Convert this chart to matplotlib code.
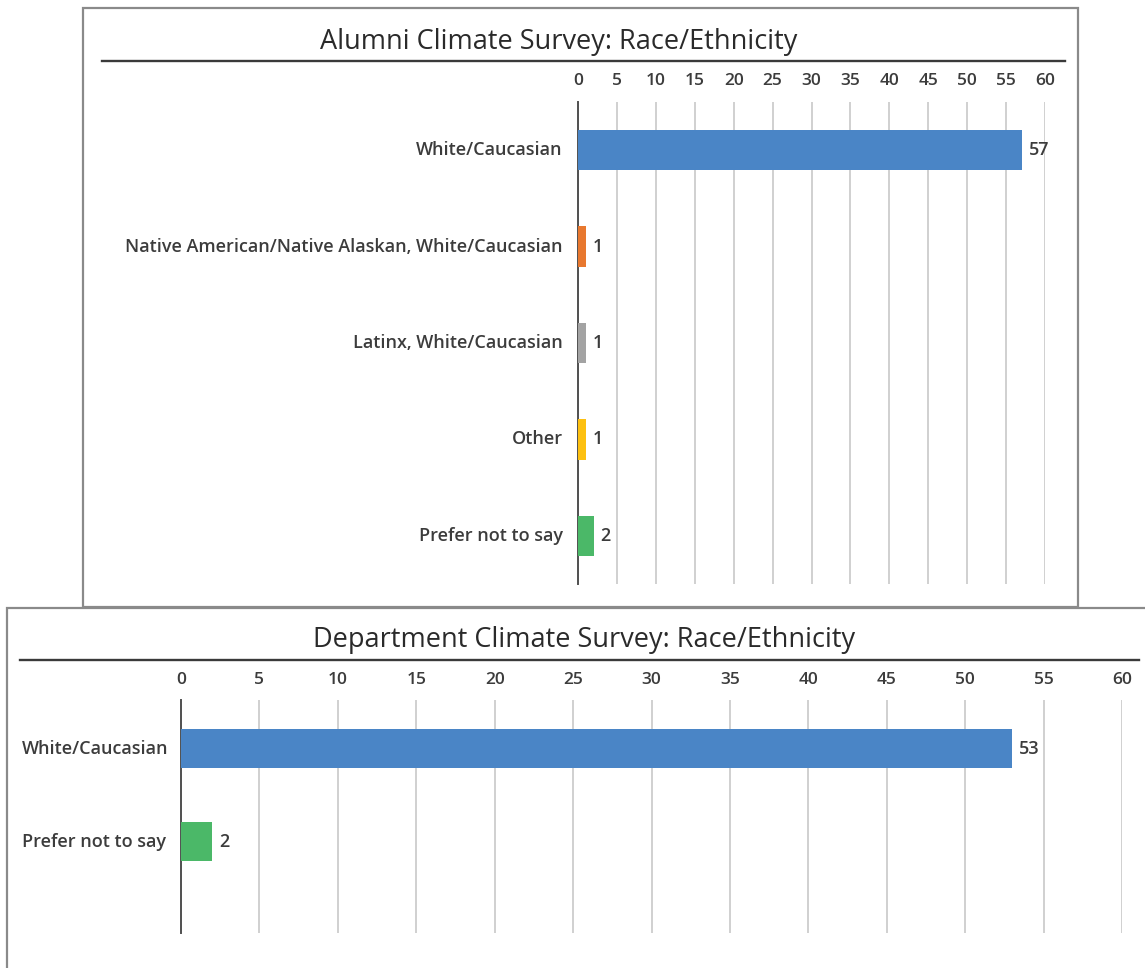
import matplotlib
matplotlib.use("Agg")
import matplotlib.pyplot as plt
from matplotlib.patches import Rectangle
from matplotlib.lines import Line2D
from matplotlib.transforms import blended_transform_factory

plt.rcParams['font.family'] = ['Open Sans', 'DejaVu Sans']

# Alumni survey
alumni_title = "Alumni Climate Survey: Race/Ethnicity"
alumni_categories = ["White/Caucasian",
                     "Native American/Native Alaskan, White/Caucasian",
                     "Latinx, White/Caucasian",
                     "Other",
                     "Prefer not to say"]
alumni_counts = [57, 1, 1, 1, 2]
alumni_colors = ["#4a85c6", "#e8782f", "#a3a3a3", "#fdc010", "#4bb868"]

# Department survey
dept_title = "Department Climate Survey: Race/Ethnicity"
dept_categories = ["White/Caucasian", "Prefer not to say"]
dept_counts = [53, 2]
dept_colors = ["#4a85c6", "#4bb868"]

x_ticks = list(range(0, 61, 5))

W, H = 1145, 968
fig = plt.figure(figsize=(W / 100, H / 100), dpi=100)
fig.patch.set_facecolor("white")

TEXT = "#3c3c3c"
TITLE = "#2a2a2a"
GRID = "#d0d0d0"
BORDER = "#8a8a8a"
LABEL_SIZE = 13
TICK_SIZE = 12.5
TITLE_SIZE = 19.5


def px_axes(left, top, right, bottom):
    return fig.add_axes([left / W, 1 - bottom / H, (right - left) / W, (bottom - top) / H])


def frame(left, top, right, bottom, z):
    fig.add_artist(Rectangle((left / W, 1 - bottom / H), (right - left) / W, (bottom - top) / H,
                             transform=fig.transFigure, facecolor="white",
                             edgecolor=BORDER, linewidth=1.6, zorder=z))


def hline(x0, x1, y, z):
    fig.add_artist(Line2D([x0 / W, x1 / W], [1 - y / H, 1 - y / H], transform=fig.transFigure,
                          color="#3a3a3a", linewidth=1.7, zorder=z))


def style_axes(ax, ylim):
    ax.set_xlim(0, 60)
    ax.set_ylim(*ylim)
    ax.set_xticks(x_ticks)
    ax.xaxis.tick_top()
    ax.tick_params(axis="x", length=0, pad=9, labelsize=TICK_SIZE, labelcolor=TEXT)
    for lbl in ax.get_xticklabels():
        lbl.set_fontweight("semibold")
    ax.set_yticks([])
    for s in ("top", "right", "bottom"):
        ax.spines[s].set_visible(False)
    ax.spines["left"].set_color("#505050")
    ax.spines["left"].set_linewidth(1.4)
    ax.grid(axis="x", color=GRID, linewidth=1.4)
    ax.set_axisbelow(True)
    ax.patch.set_alpha(0)


# ---- top panel ----
frame(83, 8, 1078, 607, 1)
fig.text(559 / W, 1 - 49 / H, alumni_title, ha="center", va="baseline",
         fontsize=TITLE_SIZE, color=TITLE, zorder=6)
hline(102, 1065, 61, 5)

ax1 = px_axes(578, 102, 1045, 584)
ax1.set_zorder(3)
ypos = list(range(len(alumni_categories)))
ax1.barh(ypos, alumni_counts, height=0.42, color=alumni_colors, zorder=3)
style_axes(ax1, (4.5, -0.5))
for y, v, lab in zip(ypos, alumni_counts, alumni_categories):
    ax1.annotate(str(v), (v, y), xytext=(5, 0), textcoords="offset points",
                 va="center", ha="left", fontsize=LABEL_SIZE, color=TEXT,
                 fontweight="semibold")
    ax1.annotate(lab, (0, y), xytext=(-11, 0), textcoords="offset points",
                 va="center", ha="right", fontsize=LABEL_SIZE, color=TEXT,
                 fontweight="semibold", annotation_clip=False)

# ---- bottom panel ----
frame(7, 608, 1160, 990, 10)
fig.text(584 / W, 1 - 647 / H, dept_title, ha="center", va="baseline",
         fontsize=TITLE_SIZE, color=TITLE, zorder=12)
hline(20, 1139, 660, 12)

ax2 = px_axes(181, 700, 1122, 933)
ax2.set_zorder(13)
ypos2 = list(range(len(dept_categories)))
ax2.barh(ypos2, dept_counts, height=0.42, color=dept_colors, zorder=3)
style_axes(ax2, (1.98, -0.527))
label_tr = blended_transform_factory(fig.transFigure, ax2.transData)
for y, v, lab in zip(ypos2, dept_counts, dept_categories):
    ax2.annotate(str(v), (v, y), xytext=(5, 0), textcoords="offset points",
                 va="center", ha="left", fontsize=LABEL_SIZE, color=TEXT,
                 fontweight="semibold")
    ax2.text(22 / W, y, lab, transform=label_tr, va="center", ha="left",
             fontsize=LABEL_SIZE, color=TEXT, fontweight="semibold", clip_on=False)

fig.savefig("out.png", dpi=100, facecolor="white")
